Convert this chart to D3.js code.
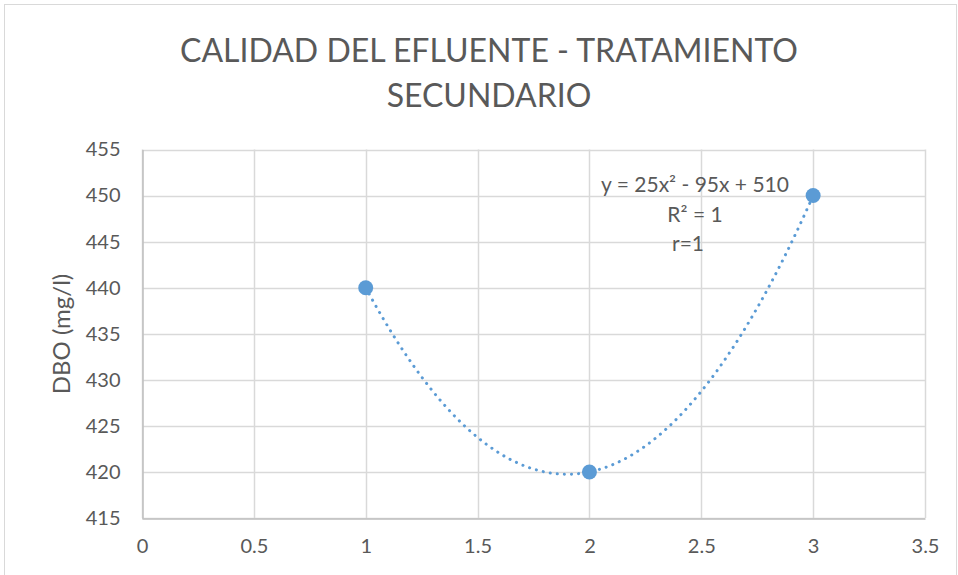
<!DOCTYPE html>
<html>
<head>
<meta charset="utf-8">
<script src="https://cdn.jsdelivr.net/npm/d3@7"></script>
<style>
  html, body { margin: 0; padding: 0; background: #fff; }
  svg { display: block; }
  text { font-family: Lato, "Open Sans", sans-serif; fill: #595959; }
</style>
</head>
<body>
<svg id="chart" width="958" height="575"></svg>
<script>
// Measured DBO values (mg/l) per sample
const xValues = [1, 2, 3];
const dboValues = [440, 420, 450];

// Polynomial trendline coefficients: y = a x^2 + b x + c
const trendCoef = [25, -95, 510];

const xTicks = [0, 0.5, 1, 1.5, 2, 2.5, 3, 3.5];
const yTicks = [415, 420, 425, 430, 435, 440, 445, 450, 455];

const titleLines = ["CALIDAD DEL EFLUENTE - TRATAMIENTO", "SECUNDARIO"];
const yLabel = "DBO (mg/l)";
const equationLines = ["y = 25x² - 95x + 510", "R² = 1", "r=1"];

const svg = d3.select("#chart");
const W = 958, H = 575;

// Outer chart frame
svg.append("rect")
  .attr("x", 4.5).attr("y", 4.5)
  .attr("width", W - 6).attr("height", H + 10)
  .attr("fill", "#fff").attr("stroke", "#d9d9d9").attr("stroke-width", 1);

const plot = { left: 142, right: 925, top: 149.5, bottom: 518 };

const x = d3.scaleLinear().domain([0, 3.5]).range([plot.left, plot.right]);
const y = d3.scaleLinear().domain([415, 455]).range([plot.bottom, plot.top]);

// Gridlines
const grid = svg.append("g");
grid.selectAll(".hg").data(yTicks).join("line")
  .attr("x1", plot.left).attr("x2", plot.right)
  .attr("y1", d => Math.round(y(d)) + 0.5).attr("y2", d => Math.round(y(d)) + 0.5)
  .attr("stroke", "#d9d9d9").attr("stroke-width", 1.5);
grid.selectAll(".vg").data(xTicks).join("line")
  .attr("y1", plot.top).attr("y2", plot.bottom)
  .attr("x1", d => Math.round(x(d)) + 0.5).attr("x2", d => Math.round(x(d)) + 0.5)
  .attr("stroke", "#d9d9d9").attr("stroke-width", 1.5);

// Axes
const xAxis = svg.append("g")
  .attr("transform", `translate(0,${Math.round(plot.bottom) + 0.5})`)
  .call(d3.axisBottom(x).tickValues(xTicks).tickSize(0).tickPadding(20).tickFormat(d3.format("")));
xAxis.select(".domain").attr("stroke", "#bfbfbf").attr("stroke-width", 1.5);
xAxis.selectAll("text").style("font-size", "20px").attr("fill", "#595959");

const yAxis = svg.append("g")
  .attr("transform", `translate(${plot.left + 0.5},0)`)
  .call(d3.axisLeft(y).tickValues(yTicks).tickSize(0).tickPadding(22).tickFormat(d3.format("")));
yAxis.select(".domain").attr("stroke", "#bfbfbf").attr("stroke-width", 1.5);
yAxis.selectAll("text").style("font-size", "20px").attr("fill", "#595959");

// Title
svg.append("text")
  .attr("text-anchor", "middle")
  .style("font-size", "32px")
  .selectAll("tspan").data(titleLines).join("tspan")
  .attr("x", 489)
  .attr("y", (d, i) => 62 + i * 45)
  .text(d => d);

// Y axis title
svg.append("text")
  .attr("transform", `translate(70,334) rotate(-90)`)
  .attr("text-anchor", "middle")
  .style("font-size", "24px")
  .text(yLabel);

// Dotted polynomial trendline across the data range
const poly = t => trendCoef[0] * t * t + trendCoef[1] * t + trendCoef[2];
const trendX = d3.range(0, 201).map(i => xValues[0] + (xValues[xValues.length - 1] - xValues[0]) * i / 200);
svg.append("path")
  .datum(trendX)
  .attr("d", d3.line().x(d => x(d)).y(d => y(poly(d))))
  .attr("fill", "none")
  .attr("stroke", "#5b9bd5")
  .attr("stroke-width", 3)
  .attr("stroke-linecap", "round")
  .attr("stroke-dasharray", "0.1 7");

// Data markers
svg.selectAll(".pt").data(xValues).join("circle")
  .attr("cx", d => x(d))
  .attr("cy", (d, i) => y(dboValues[i]))
  .attr("r", 7.5)
  .attr("fill", "#5b9bd5");

// Trendline equation label
svg.append("text")
  .attr("text-anchor", "middle")
  .style("font-size", "21px")
  .selectAll("tspan").data(equationLines).join("tspan")
  .attr("x", (d, i) => i === 2 ? 688 : 695)
  .attr("y", (d, i) => 192 + i * 29.5)
  .text(d => d);
</script>
</body>
</html>
